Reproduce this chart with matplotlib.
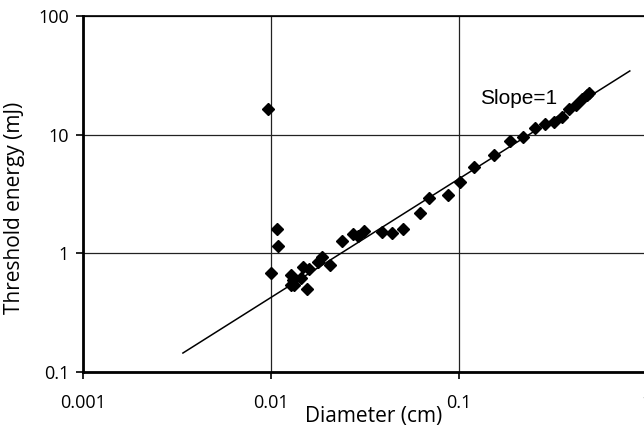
import numpy as np
import matplotlib
matplotlib.use('Agg')
import matplotlib.pyplot as plt
from matplotlib.ticker import FixedLocator, FuncFormatter, NullLocator

# Threshold energy vs. spot diameter
diameter_cm = [0.00968, 0.00996, 0.01072, 0.01085, 0.01277, 0.01315, 0.01277, 0.0133,
               0.01438, 0.01474, 0.0155, 0.016, 0.01786, 0.0186, 0.0206, 0.0238,
               0.0274, 0.0291, 0.0313, 0.0388, 0.0438, 0.0501, 0.0621, 0.0695,
               0.0877, 0.1012, 0.1206, 0.154, 0.1867, 0.22, 0.2536, 0.2865,
               0.32, 0.355, 0.386, 0.419, 0.453, 0.478, 0.49]
energy_mj = [16.6, 0.688, 1.61, 1.15, 0.662, 0.593, 0.546, 0.538,
             0.62, 0.767, 0.498, 0.743, 0.845, 0.931, 0.804, 1.26,
             1.464, 1.397, 1.552, 1.51, 1.493, 1.613, 2.198, 2.92,
             3.11, 3.97, 5.38, 6.75, 8.9, 9.62, 11.38, 12.3,
             12.9, 14.2, 16.6, 17.8, 19.96, 21.7, 22.4]

# slope=1 reference line, E = k * d
slope = 1.0
k = 42.5
fit_x = np.array([0.0034, 0.81])
fit_y = k * fit_x ** slope

x_ticks = [0.001, 0.01, 0.1, 1]
y_ticks = [0.1, 1, 10, 100]

plt.rcParams['font.family'] = ['Open Sans', 'DejaVu Sans']

fig = plt.figure(figsize=(6.44, 4.38), dpi=100)
ax = fig.add_axes([83 / 644, 66 / 438, 564 / 644, 356 / 438])
ax.set_xscale('log')
ax.set_yscale('log')
ax.set_xlim(0.001, 1)
ax.set_ylim(0.1, 100)

ax.plot(fit_x, fit_y, color='black', lw=1.1, zorder=3)
ax.plot(diameter_cm, energy_mj, linestyle='none', marker='D', markersize=6,
        color='black', zorder=4)

ax.xaxis.set_major_locator(FixedLocator(x_ticks))
ax.yaxis.set_major_locator(FixedLocator(y_ticks))
ax.xaxis.set_minor_locator(NullLocator())
ax.yaxis.set_minor_locator(NullLocator())
fmt = FuncFormatter(lambda v, pos: '%g' % v)
ax.xaxis.set_major_formatter(fmt)
ax.yaxis.set_major_formatter(fmt)
ax.tick_params(axis='x', direction='out', length=5, width=1.2, pad=11, labelsize=13)
ax.tick_params(axis='y', direction='out', length=5, width=1.2, pad=5, labelsize=13)

ax.grid(True, which='major', color='#222222', lw=0.9)
ax.set_axisbelow(True)

ax.spines['left'].set_linewidth(2.0)
ax.spines['bottom'].set_linewidth(2.0)
ax.spines['top'].set_linewidth(1.2)
ax.spines['right'].set_visible(False)

ax.set_xlabel('Diameter (cm)', fontsize=15)
ax.set_ylabel('Threshold energy (mJ)', fontsize=15)
ax.xaxis.set_label_coords(0.516, -0.095)
ax.yaxis.set_label_coords(-0.103, 0.46)

ax.text(0.1294, 18.2, 'Slope=1', fontsize=15, family='Liberation Sans',
        ha='left', va='baseline')

fig.savefig('out.png', dpi=100)
